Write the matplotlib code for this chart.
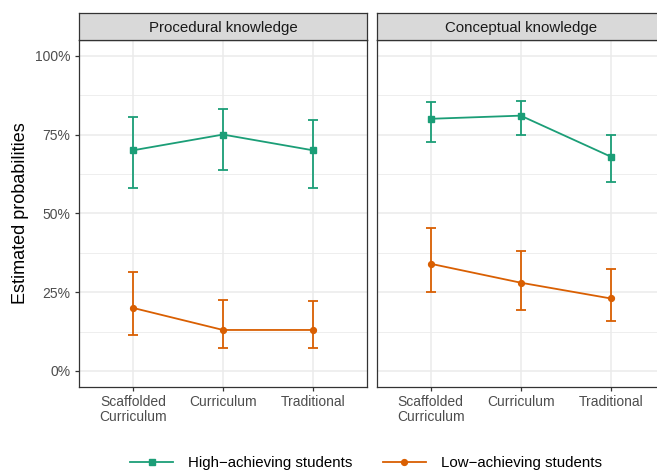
import matplotlib
matplotlib.use("Agg")
import matplotlib.pyplot as plt
from matplotlib.lines import Line2D
from matplotlib.ticker import FuncFormatter, MultipleLocator
import numpy as np

plt.rcParams['font.family'] = ['Liberation Sans', 'DejaVu Sans']

# ---- data ----
categories = ["Scaffolded\nCurriculum", "Curriculum", "Traditional"]
panels = ["Procedural knowledge", "Conceptual knowledge"]
groups = ["High\u2212achieving students", "Low\u2212achieving students"]

proc_high = [0.70, 0.75, 0.70]
proc_high_lo = [0.58, 0.639, 0.579]
proc_high_hi = [0.806, 0.832, 0.796]

proc_low = [0.20, 0.13, 0.13]
proc_low_lo = [0.114, 0.072, 0.072]
proc_low_hi = [0.315, 0.225, 0.222]

conc_high = [0.80, 0.81, 0.68]
conc_high_lo = [0.727, 0.748, 0.599]
conc_high_hi = [0.852, 0.855, 0.750]

conc_low = [0.34, 0.28, 0.23]
conc_low_lo = [0.25, 0.194, 0.16]
conc_low_hi = [0.453, 0.38, 0.325]

colors = {"high": "#1B9E77", "low": "#D95F02"}
markers = {"high": "s", "low": "o"}

panel_data = [
    {"high": (proc_high, proc_high_lo, proc_high_hi),
     "low": (proc_low, proc_low_lo, proc_low_hi)},
    {"high": (conc_high, conc_high_lo, conc_high_hi),
     "low": (conc_low, conc_low_lo, conc_low_hi)},
]

# ---- figure layout (pixel based) ----
W, H = 657, 471
fig = plt.figure(figsize=(W / 100, H / 100), dpi=100)

def fx(px):
    return px / W

def fy(py):
    return 1 - py / H

panel_top, panel_bot = 40.0, 386.7
strip_top = 12.5
panel_w = 288.0
lefts = [79.0, 376.7]

grey20 = "#333333"
x = np.arange(1, len(categories) + 1)

for i, (left, title, pdata) in enumerate(zip(lefts, panels, panel_data)):
    ax = fig.add_axes([fx(left), fy(panel_bot), panel_w / W, (panel_bot - panel_top) / H])
    ax.set_xlim(0.4, 3.6)
    ax.set_ylim(-0.05, 1.05)
    ax.set_facecolor("white")

    # grid
    ax.yaxis.set_major_locator(MultipleLocator(0.25))
    ax.yaxis.set_minor_locator(MultipleLocator(0.125))
    ax.set_xticks(x)
    ax.grid(which="major", color="#EBEBEB", lw=1.1, zorder=0)
    ax.grid(which="minor", axis="y", color="#EBEBEB", lw=0.6, zorder=0)
    ax.set_axisbelow(True)

    for key in ["high", "low"]:
        vals, lo, hi = pdata[key]
        vals = np.array(vals)
        yerr = np.vstack([vals - np.array(lo), np.array(hi) - vals])
        ax.errorbar(x, vals, yerr=yerr, color=colors[key], lw=1.3,
                    elinewidth=1.3, capsize=3.3, capthick=1.3,
                    marker=markers[key], markersize=4.2, zorder=3)

    for sp in ax.spines.values():
        sp.set_color(grey20)
        sp.set_linewidth(0.9)

    ax.tick_params(axis="x", length=2.75, width=0.9, color=grey20,
                   labelsize=10, labelcolor="#4D4D4D", pad=3)
    ax.set_xticklabels(categories, linespacing=1.1)
    ax.tick_params(axis="y", which="minor", length=0)
    ax.set_yticks([0, 0.25, 0.5, 0.75, 1.0])
    if i == 0:
        ax.tick_params(axis="y", which="major", length=2.75, width=0.9,
                       color=grey20, labelsize=10, labelcolor="#4D4D4D", pad=3.5)
        ax.yaxis.set_major_formatter(FuncFormatter(lambda v, p: f"{v * 100:.0f}%"))
        ax.set_ylabel("Estimated probabilities", fontsize=13, color="black", labelpad=4)
    else:
        ax.tick_params(axis="y", which="major", length=0, labelleft=False)
        ax.spines["right"].set_visible(False)

    # facet strip
    sax = fig.add_axes([fx(left), fy(panel_top), panel_w / W, (panel_top - strip_top) / H])
    sax.set_facecolor("#D9D9D9")
    sax.set_xticks([])
    sax.set_yticks([])
    for sp in sax.spines.values():
        sp.set_color(grey20)
        sp.set_linewidth(0.9)
    if i == 1:
        sax.spines["right"].set_visible(False)
    sax.text(0.5, 0.45, title, ha="center", va="center", fontsize=10.8,
             color="#1A1A1A", transform=sax.transAxes)

# ---- legend ----
handles = [
    Line2D([], [], color=colors["high"], marker=markers["high"], lw=1.3, markersize=4.2),
    Line2D([], [], color=colors["low"], marker=markers["low"], lw=1.3, markersize=4.2),
]
fig.legend(handles, groups, loc="center", ncol=2, frameon=False,
           bbox_to_anchor=(fx(366), fy(463)), fontsize=10.8,
           handlelength=2.9, handletextpad=1.0, columnspacing=2.0)

fig.savefig("out.png", dpi=100)
